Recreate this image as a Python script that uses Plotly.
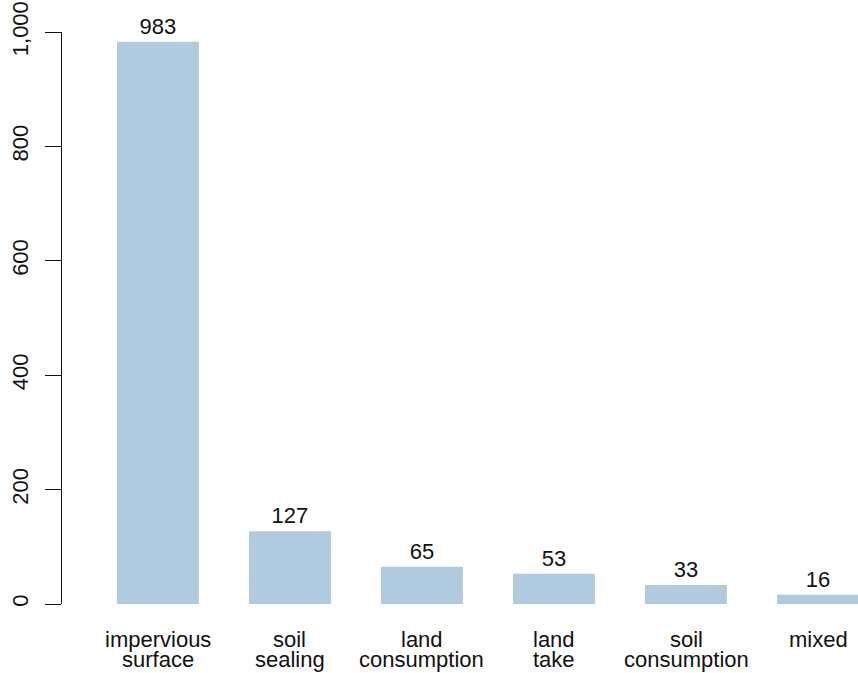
import plotly.graph_objects as go

categories = ["impervious\nsurface", "soil\nsealing", "land\nconsumption", "land\ntake", "soil\nconsumption", "mixed"]
counts = [983, 127, 65, 53, 33, 16]
y_ticks = [0, 200, 400, 600, 800, 1000]

FONT = "Liberation Sans, Arial, Helvetica, sans-serif"
FS = 22

fig = go.Figure()
fig.add_trace(go.Bar(
    x=list(range(len(categories))),
    y=counts,
    width=0.62,
    marker=dict(color="#B0CAE0", line=dict(width=0)),
    text=[str(v) for v in counts],
    textposition="outside",
    textfont=dict(family=FONT, size=FS, color="#111111"),
    cliponaxis=False,
    hoverinfo="skip",
))

annotations = []
for i, cat in enumerate(categories):
    for j, line in enumerate(cat.split("\n")):
        annotations.append(dict(
            x=i, xref="x", y=0, yref="paper",
            text=line, showarrow=False,
            xanchor="center", yanchor="middle",
            yshift=-(35 + 20 * j),
            font=dict(family=FONT, size=FS, color="#111111"),
        ))

fig.update_layout(
    width=858, height=673,
    margin=dict(l=62, r=0, t=32, b=69),
    plot_bgcolor="white", paper_bgcolor="white",
    showlegend=False,
    separators=".,",
    annotations=annotations,
    font=dict(family=FONT, size=FS, color="#111111"),
    xaxis=dict(
        range=[-0.727, 5.303],
        showticklabels=False, ticks="", showline=False,
        showgrid=False, zeroline=False, fixedrange=True,
    ),
    yaxis=dict(
        range=[0, 1000],
        tickvals=y_ticks, tickformat=",d",
        tickangle=-90,
        ticks="outside", ticklen=16, tickwidth=1.3, tickcolor="#111111",
        showline=True, linewidth=1.3, linecolor="#111111",
        showgrid=False, zeroline=False,
        ticklabelstandoff=8,
        ticklabeloverflow="allow",
        fixedrange=True,
        tickfont=dict(family=FONT, size=FS, color="#111111"),
    ),
)

fig.write_html(
    "out.html",
    config={"displayModeBar": False},
    post_script="document.body.style.margin='0';document.body.style.overflow='hidden';",
)
